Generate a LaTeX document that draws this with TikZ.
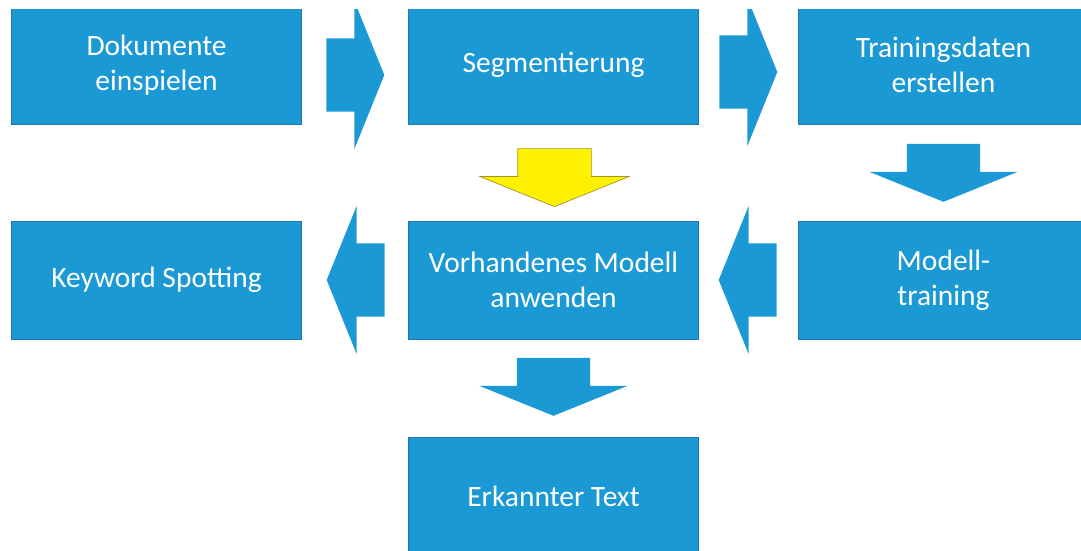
\documentclass[tikz,border=0pt]{standalone}
\usepackage{fontspec}
\setmainfont{Carlito}
\usepackage{tikz}
\usetikzlibrary{shapes.arrows, positioning, calc}
\definecolor{boxblue}{RGB}{27,153,213}
\definecolor{boxedge}{RGB}{30,118,172}
\definecolor{arrowyellow}{RGB}{255,241,0}
\definecolor{yellowedge}{RGB}{160,150,40}

\begin{document}
\begin{tikzpicture}[x=1pt, y=-1pt,
    stepbox/.style={draw=boxedge, line width=0.7pt, fill=boxblue, text=white,
        minimum width=290pt, minimum height=118pt, inner sep=0pt, outer sep=0pt,
        align=center, font=\fontsize{29.5}{35}\selectfont},
    blockarrow/.style={single arrow, fill=boxblue, draw=none, inner xsep=0pt, inner ysep=36.5pt,
        single arrow head extend=37.5pt, single arrow tip angle=136, minimum height=58pt,
        anchor=tip},
    yellowarrow/.style={blockarrow, fill=arrowyellow, draw=yellowedge, line width=0.7pt}]
    \useasboundingbox (0,0) rectangle (1081,551);
    \clip (0,10) rectangle (1081,551);

    \node[stepbox] (doc) at (156.5,65) {Dokumente\\einspielen};
    \node[stepbox, right=107pt of doc] (seg) {Segmentierung};
    \node[stepbox, right=100pt of seg] (train) {Trainingsdaten\\erstellen};
    \node[stepbox, below=97pt of doc] (kws) {Keyword Spotting};
    \node[stepbox, below=97pt of seg] (apply) {Vorhandenes Modell\\anwenden};
    \node[stepbox, below=97pt of train] (model) {Modell-\\training};
    \node[stepbox, below=98pt of apply] (result) {Erkannter Text};

    \node[blockarrow] (docseg) at ($(seg.west)+(-24,10)$) {};
    \node[blockarrow] (segtrain) at ($(train.west)+(-21,7)$) {};
    \node[yellowarrow, rotate=-90] (segapply) at ($(apply.north)+(1,-14)$) {};
    \node[blockarrow, rotate=-90] (trainmodel) at ($(model.north)+(0,-19)$) {};
    \node[blockarrow, rotate=180] (modelapply) at ($(apply.east)+(20,0)$) {};
    \node[blockarrow, rotate=180] (applykws) at ($(kws.east)+(25,0)$) {};
    \node[blockarrow, rotate=-90] (applyresult) at ($(result.north)+(0,-21)$) {};
\end{tikzpicture}
\end{document}
